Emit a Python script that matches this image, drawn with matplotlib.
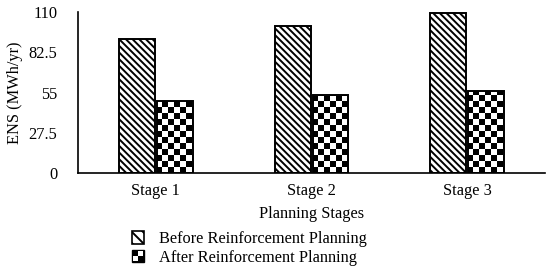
import numpy as np
import matplotlib
matplotlib.use("Agg")
import matplotlib.pyplot as plt
from matplotlib.patches import Rectangle
from matplotlib.legend_handler import HandlerBase

# data
stages = ["Stage 1", "Stage 2", "Stage 3"]
before = [91.5, 100.4, 109.5]
after = [49.2, 53.3, 56.2]
yticks = [0, 27.5, 55, 82.5, 110]
series_names = ["Before Reinforcement Planning", "After Reinforcement Planning"]

plt.rcParams["font.family"] = ["Liberation Serif", "DejaVu Serif"]
plt.rcParams["hatch.linewidth"] = 1.4

fig = plt.figure(figsize=(5.5, 2.69), dpi=100)
ax = fig.add_axes([0.142, 0.357, 0.849, 0.598])

x = np.arange(len(stages))
w = 0.23
b1 = ax.bar(x - w / 2 - 0.006, before, w, facecolor="white", edgecolor="black",
            hatch="\\\\\\\\\\", linewidth=1.4)
b2 = ax.bar(x + w / 2 + 0.006, after, w, facecolor="none", edgecolor="black",
            linewidth=1.4, zorder=3)

ax.set_xlim(-0.5, 2.5)
ax.set_ylim(0, 110)
ax.set_yticks(yticks)
ax.set_yticklabels(["0", "27.5", "55", "82.5", "110"])
ax.set_xticks(x)
ax.set_xticklabels(stages)
ax.tick_params(length=0, labelsize=11.8)
ax.tick_params(axis="x", pad=7)
ax.tick_params(axis="y", pad=15)
for s in ["top", "right"]:
    ax.spines[s].set_visible(False)
ax.spines["left"].set_linewidth(1.2)
ax.spines["bottom"].set_linewidth(1.2)

ax.set_ylabel("ENS (MWh/yr)", fontsize=11.8, labelpad=4)
ax.set_xlabel("Planning Stages", fontsize=11.8, labelpad=5)

# checkerboard texture for the "after" bars
ncols, nrows = 78, 27
checker = (np.add.outer(np.arange(nrows), np.arange(ncols)) % 2).astype(float)
for bar in b2:
    im = ax.imshow(checker, cmap="gray_r", extent=(-0.5, 2.5, 0, 110),
                   aspect="auto", interpolation="nearest", origin="lower",
                   zorder=2, vmin=0, vmax=1)
    im.set_clip_path(bar)
ax.set_xlim(-0.5, 2.5)
ax.set_ylim(0, 110)


class CheckerHandler(HandlerBase):
    def create_artists(self, legend, orig_handle, xdescent, ydescent,
                       width, height, fontsize, trans):
        s = min(width, height)
        x0 = -xdescent + (width - s) / 2
        y0 = -ydescent + (height - s) / 2
        arts = [Rectangle((x0, y0), s, s, facecolor="black", edgecolor="black",
                          transform=trans)]
        h = s / 2
        arts.append(Rectangle((x0 + h, y0 + h), h * 0.8, h * 0.8,
                              facecolor="white", edgecolor="none", transform=trans))
        arts.append(Rectangle((x0 + h * 0.2, y0 + h * 0.2), h * 0.8, h * 0.8,
                              facecolor="white", edgecolor="none", transform=trans))
        return arts


class HatchHandler(HandlerBase):
    def create_artists(self, legend, orig_handle, xdescent, ydescent,
                       width, height, fontsize, trans):
        s = min(width, height)
        x0 = -xdescent + (width - s) / 2
        y0 = -ydescent + (height - s) / 2
        r = Rectangle((x0, y0), s, s, facecolor="white", edgecolor="black",
                      hatch="\\\\\\", linewidth=1.2, transform=trans)
        return [r]


h1 = Rectangle((0, 0), 1, 1)
h2 = Rectangle((0, 0), 1, 1)
fig.legend([h1, h2], series_names, loc="lower left",
           bbox_to_anchor=(0.218, -0.03), frameon=False, fontsize=11.8,
           handler_map={h1: HatchHandler(), h2: CheckerHandler()},
           handlelength=0.8, handleheight=0.8, handletextpad=0.9,
           labelspacing=0.15, borderaxespad=0.3)

fig.savefig("out.png", dpi=100)
